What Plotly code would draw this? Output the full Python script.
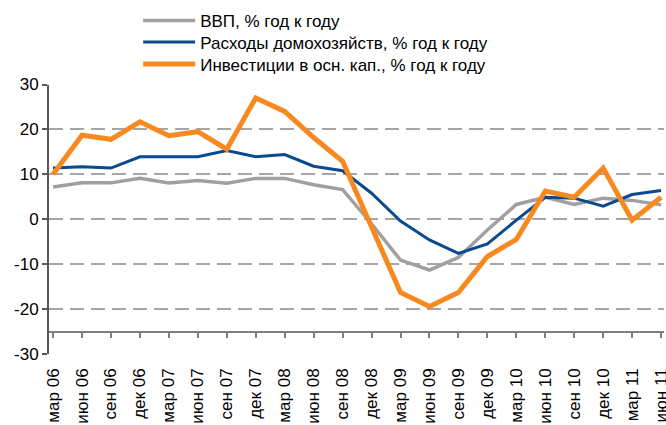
import plotly.graph_objects as go

categories = ["мар 06", "июн 06", "сен 06", "дек 06", "мар 07", "июн 07", "сен 07", "дек 07",
              "мар 08", "июн 08", "сен 08", "дек 08", "мар 09", "июн 09", "сен 09", "дек 09",
              "мар 10", "июн 10", "сен 10", "дек 10", "мар 11", "июн 11"]

gdp = [7.2, 8.1, 8.1, 9.1, 8.1, 8.6, 8.0, 9.1, 9.1, 7.7, 6.6, -1.0,
       -9.1, -11.3, -8.5, -2.4, 3.3, 4.9, 3.3, 4.7, 4.2, 3.2]
households = [11.4, 11.7, 11.4, 13.9, 13.9, 13.9, 15.3, 13.9, 14.4, 11.8, 10.8, 5.8,
              -0.4, -4.6, -7.6, -5.5, -0.2, 4.9, 4.7, 2.9, 5.5, 6.4]
investment = [10.0, 18.7, 17.8, 21.7, 18.6, 19.5, 15.6, 27.0, 24.0, 18.2, 12.9, -1.5,
              -16.3, -19.4, -16.3, -8.3, -4.5, 6.3, 4.9, 11.4, -0.2, 4.9]

names = ["ВВП, % год к году",
         "Расходы домохозяйств, % год к году",
         "Инвестиции в осн. кап., % год к году"]
colors = ["#A0A0A0", "#0B4A8E", "#F7891F"]
widths = [3.5, 3, 5]

y_ticks = [-30, -20, -10, 0, 10, 20, 30]
y_ticktext = ["-30", "-20", "-10", "0", "10", "20", "30"]

FONT = "Liberation Sans, Arial, sans-serif"

fig = go.Figure()
legend_ids = ["legend", "legend2", "legend3"]
for vals, name, col, w, lg in zip([gdp, households, investment], names, colors, widths, legend_ids):
    fig.add_trace(go.Scatter(x=categories, y=vals, name=name, mode="lines",
                             line=dict(color=col, width=w), hoverinfo="skip", legend=lg))

# helper trace for the axis crossing line at -25
fig.add_trace(go.Scatter(x=categories, y=[None] * len(categories), xaxis="x2",
                         showlegend=False, hoverinfo="skip", mode="lines"))

n = len(categories)
xr = [-0.14, n - 1 + 0.1]


def legend_box(top_px):
    return dict(x=0.145, xanchor="left", y=1 - top_px / 425, yref="container",
                yanchor="top", bgcolor="rgba(0,0,0,0)", font=dict(size=17),
                itemwidth=52)


fig.update_layout(
    width=666, height=425,
    margin=dict(l=49, r=2, t=83, b=71),
    paper_bgcolor="white", plot_bgcolor="white",
    font=dict(family=FONT, size=16, color="#000000"),
    showlegend=True,
    legend=legend_box(3),
    legend2=legend_box(24.5),
    legend3=legend_box(46.5),
    xaxis=dict(type="category", range=xr, showgrid=False, zeroline=False,
               showline=False, ticks="", tickangle=-90, ticklabelstandoff=10,
               tickfont=dict(size=17), automargin=False),
    xaxis2=dict(type="category", overlaying="x", anchor="free", position=5 / 60,
                range=xr, categoryorder="array", categoryarray=categories,
                showgrid=False, zeroline=False, showline=True, linecolor="#7F7F7F",
                linewidth=2, ticks="outside", ticklen=5, tickwidth=1.5,
                tickcolor="#7F7F7F", showticklabels=False, side="bottom"),
    yaxis=dict(range=[-30, 30], tickvals=y_ticks, ticktext=y_ticktext,
               showgrid=True, gridcolor="#A6A6A6",
               gridwidth=1.5, griddash="14px,7px", zeroline=False,
               showline=True, linecolor="#595959", linewidth=2,
               ticks="outside", ticklen=5, tickcolor="#595959", tickwidth=1.5,
               tickfont=dict(size=17), automargin=False),
)

fig.write_html("out.html", config={"displayModeBar": False},
               post_script="document.body.style.margin='0';document.body.style.overflow='hidden';")
